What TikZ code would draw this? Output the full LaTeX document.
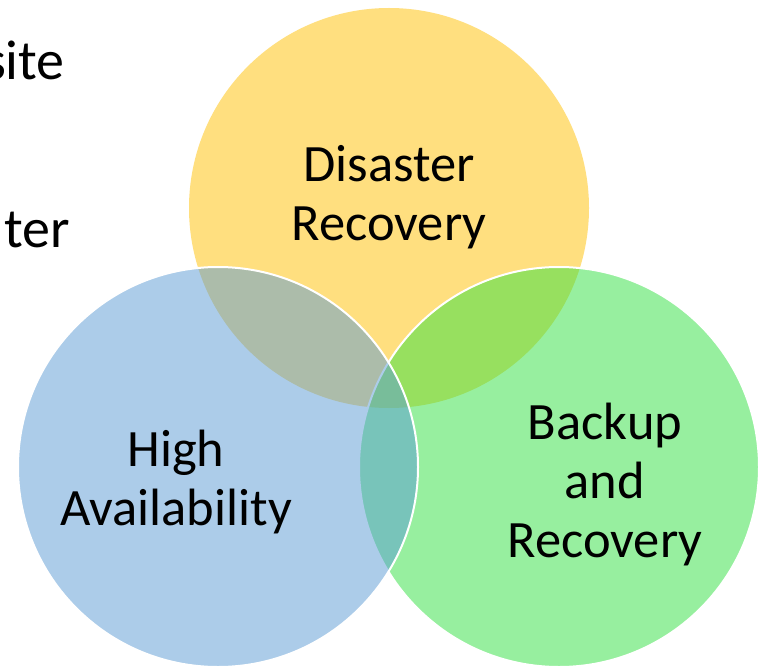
\documentclass[tikz,border=0pt]{standalone}
\usepackage{fontspec}
\setmainfont{Carlito}
\definecolor{cyellow}{RGB}{255,192,0}
\definecolor{cgreen}{RGB}{49,225,65}
\definecolor{cblue}{RGB}{91,155,213}
\begin{document}
\begin{tikzpicture}[x=1bp,y=-1bp,
  disc/.style={circle, minimum size=400bp, inner sep=0pt, fill opacity=0.5},
  lbl/.style={align=center, inner sep=0pt, font=\fontsize{52.5bp}{59bp}\selectfont, anchor=base},
  sidelbl/.style={inner sep=0pt, font=\fontsize{56bp}{66bp}\selectfont, anchor=base east}]
\useasboundingbox[fill=white] (0,0) rectangle (758,667);
\node[disc, fill=cyellow] (dr) at (389,208) {};
\node[disc, fill=cgreen, draw=white, line width=2bp] (br) at (559,467) {};
\node[disc, fill=cblue, draw=white, line width=2bp] (ha) at (218,467) {};
\node[lbl] (tdr) at (389,240) {Disaster\\Recovery};
\node[lbl] (tha) at (176,525) {High\\Availability};
\node[lbl] (tbr) at (605,557) {Backup\\and\\Recovery};
\node[sidelbl] (tsite) at (65,80) {site};
\node[sidelbl] (tter) at (70,247) {ter};
\end{tikzpicture}
\end{document}
